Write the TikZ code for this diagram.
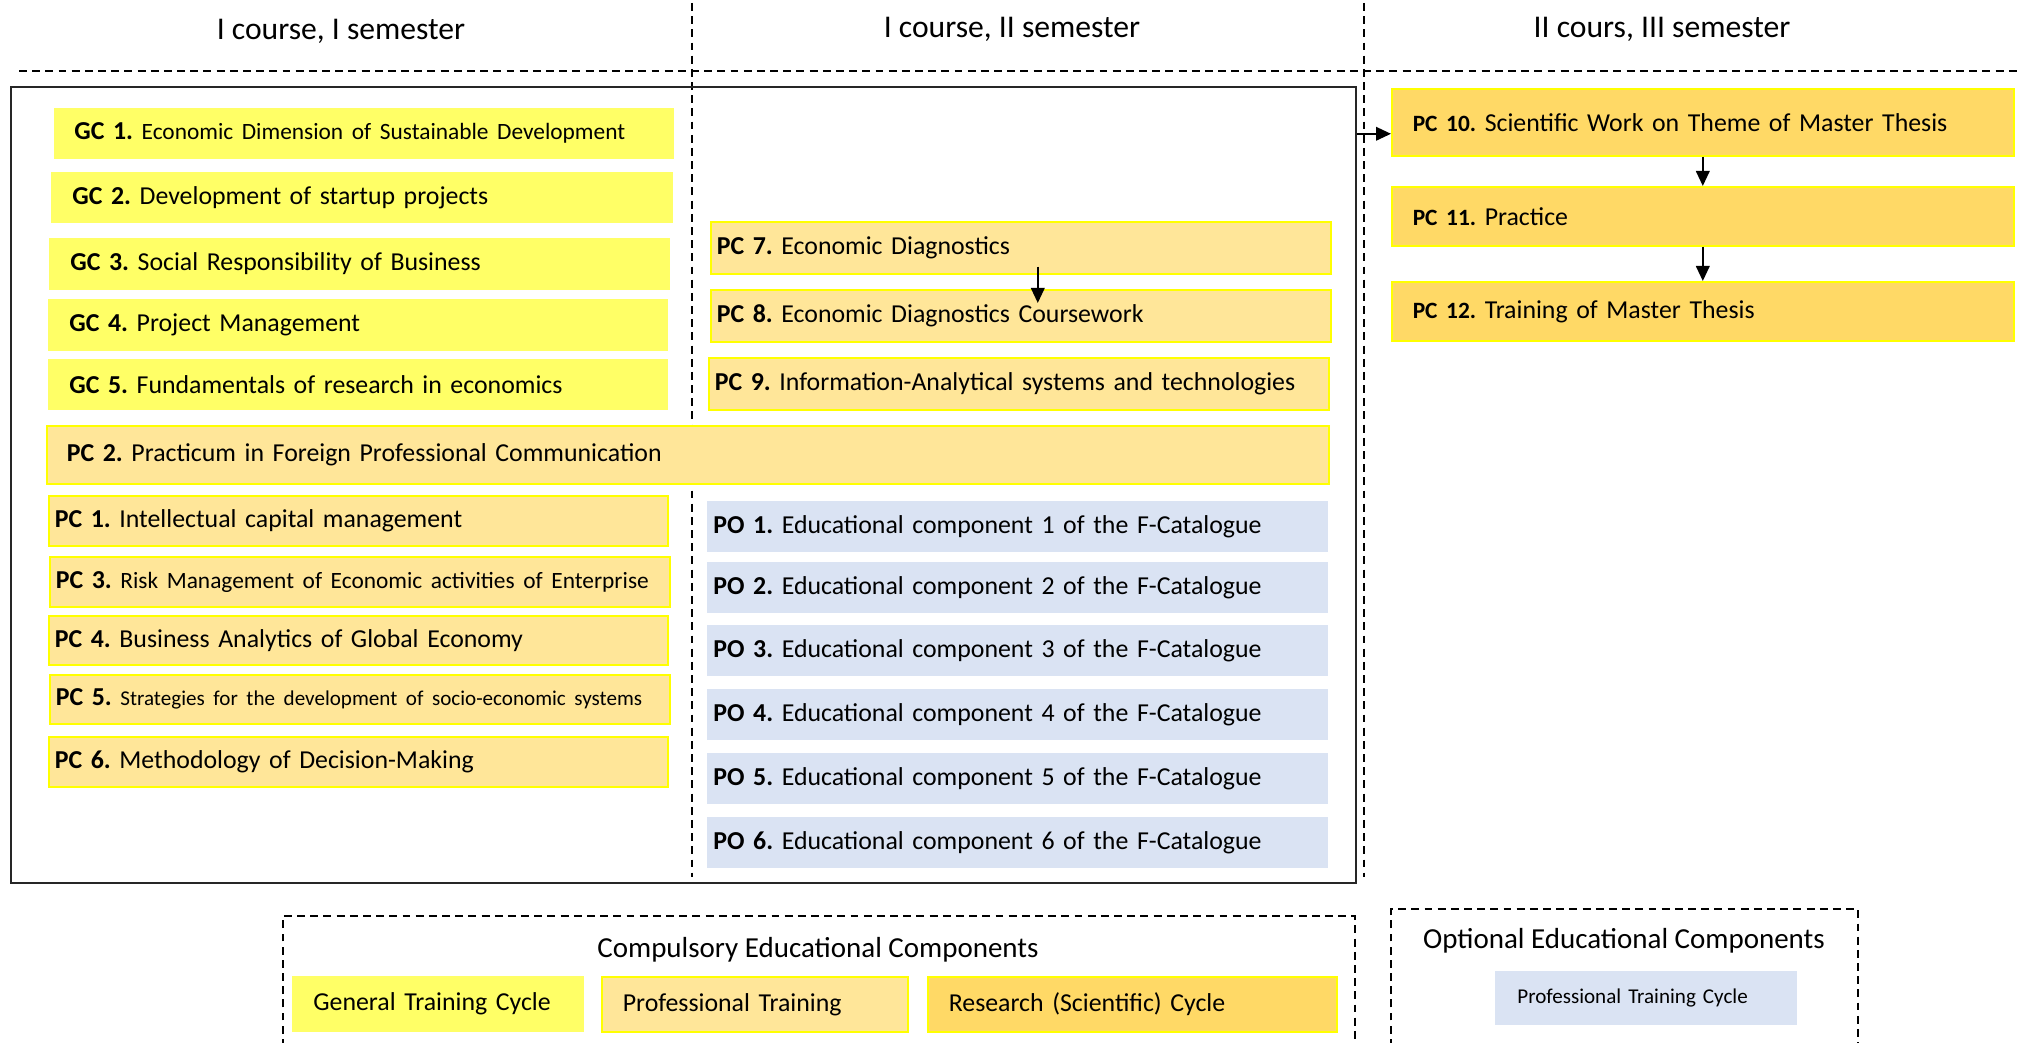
\documentclass[tikz,border=0pt]{standalone}
\usepackage{fontspec}
\setmainfont{Carlito}
\usetikzlibrary{arrows.meta}
\frenchspacing

\definecolor{gcfill}{RGB}{255,255,102}
\definecolor{pcfill}{RGB}{255,230,153}
\definecolor{rcfill}{RGB}{255,217,102}
\definecolor{pofill}{RGB}{218,227,243}
\definecolor{pcline}{RGB}{255,255,0}

\newcommand\headsize{\fontsize{18}{21}\selectfont}
\newcommand\boxsize{\fontsize{14.7}{18}\selectfont}
\newcommand\smallbox{\fontsize{13.3}{16}\selectfont}
\newcommand\tinybox{\fontsize{12}{14}\selectfont}

\tikzset{
  cell/.style n args={3}{anchor=north west, minimum height=#2*0.02cm,
    inner xsep=#3*0.02cm, inner ysep=0pt, text width={(#1-2*#3)*0.02cm},
    align=left, font=\boxsize},
  gc/.style={fill=gcfill, draw=gcfill},
  pc/.style={fill=pcfill, draw=pcline, line width=0.9pt},
  rc/.style={fill=rcfill, draw=pcline, line width=0.9pt},
  po/.style={fill=pofill},
  head/.style={font=\headsize},
  legtitle/.style={font=\fontsize{16.5}{19}\selectfont},
  gridline/.style={dash pattern=on 4.5pt off 3pt, line width=0.8pt},
  link/.style={->, line width=1.2pt},
}

\begin{document}
\begin{tikzpicture}[x=0.02cm, y=-0.02cm, >={Triangle[length=0.3cm, width=0.27cm]}]
  \useasboundingbox (0,0) rectangle (2017,1043);
  % semesters
  \node[head] (sem1) at (341,31) {I course, I semester};
  \node[head] (sem2) at (1012,29) {I course, II semester};
  \node[head] (sem3) at (1662,29) {II cours, III semester};
  \draw[gridline] (19,71) -- (2017,71);
  \foreach \x in {692,1364}
    \draw[gridline] (\x,3) -- (\x,877);
  \node[draw=black!85, line width=1.2pt, anchor=north west, inner sep=0pt,
    minimum width=26.9cm, minimum height=15.92cm] (frame) at (10,86) {};

  % I semester
  \node[cell={619}{50}{20}, gc] (gc1) at (54,108) {\textbf{GC 1.} {\smallbox Economic Dimension of Sustainable Development}};
  \node[cell={621}{50}{21}, gc] (gc2) at (51,172) {\textbf{GC 2.} Development of startup projects};
  \node[cell={620}{51}{21}, gc] (gc3) at (49,238) {\textbf{GC 3.} Social Responsibility of Business};
  \node[cell={619}{51}{21}, gc] (gc4) at (48,299) {\textbf{GC 4.} Project Management};
  \node[cell={619}{50}{21}, gc] (gc5) at (48,359) {\textbf{GC 5.} Fundamentals of research in economics};
  \node[cell={1282}{58}{20}, pc] (pc2) at (46,425) {\textbf{PC 2.} Practicum in Foreign Professional Communication};
  \node[cell={619}{50}{6}, pc] (pc1) at (48,495) {\textbf{PC 1.} Intellectual capital management};
  \node[cell={620}{50}{6}, pc] (pc3) at (49,556) {\textbf{PC 3.} {\smallbox Risk Management of Economic activities of Enterprise}};
  \node[cell={619}{49}{6}, pc] (pc4) at (48,615) {\textbf{PC 4.} Business Analytics of Global Economy};
  \node[cell={620}{49}{6}, pc] (pc5) at (49,674) {\textbf{PC 5.} {\tinybox Strategies for the development of socio-economic systems}};
  \node[cell={619}{50}{6}, pc] (pc6) at (48,736) {\textbf{PC 6.} Methodology of Decision-Making};

  % II semester
  \node[cell={620}{52}{6}, pc] (pc7) at (710,221) {\textbf{PC 7.} Economic Diagnostics};
  \node[cell={620}{52}{6}, pc] (pc8) at (710,289) {\textbf{PC 8.} Economic Diagnostics Coursework};
  \node[cell={620}{52}{6}, pc] (pc9) at (708,357) {\textbf{PC 9.} Information-Analytical systems and technologies};
  \foreach \i/\y in {1/501,2/562,3/625,4/689,5/753,6/817}
    \node[cell={621}{51}{6}, po] (po\i) at (707,\y) {\textbf{PO \i.} Educational component \i\ of the F-Catalogue};
  \draw[link] ([xshift=0.34cm, yshift=0.16cm]pc7.south) -- ([xshift=0.34cm, yshift=-0.28cm]pc8.north);

  % III semester
  \node[cell={622}{67}{21}, rc] (pc10) at (1391,88) {{\smallbox\textbf{PC 10.}} Scientific Work on Theme of Master Thesis};
  \node[cell={622}{59}{21}, rc] (pc11) at (1391,186) {{\smallbox\textbf{PC 11.}} Practice};
  \node[cell={622}{59}{21}, rc] (pc12) at (1391,281) {{\smallbox\textbf{PC 12.}} Training of Master Thesis};
  \draw[link] ([yshift=-0.23cm]pc10.west -| frame.east) -- ([yshift=-0.23cm]pc10.west);
  \draw[link] (pc10.south) -- (pc11.north);
  \draw[link] (pc11.south) -- (pc12.north);

  % legend
  \draw[gridline] (283,1060) |- (1355,916) -- (1355,1060);
  \node[legtitle] (comptitle) at (818,950) {Compulsory Educational Components};
  \node[cell={291}{55}{21}, gc] (leggc) at (292,976) {General Training Cycle};
  \node[cell={306}{55}{21}, pc] (legpc) at (601,976) {Professional Training};
  \node[cell={409}{55}{21}, rc] (legrc) at (927,976) {Research (Scientific) Cycle};
  \draw[gridline] (1391,1060) |- (1858,909) -- (1858,1060);
  \node[legtitle] (opttitle) at (1624,941) {Optional Educational Components};
  \node[cell={302}{54}{22}, po, font=\tinybox] (legpo) at (1495,971) {Professional Training Cycle};
\end{tikzpicture}
\end{document}
